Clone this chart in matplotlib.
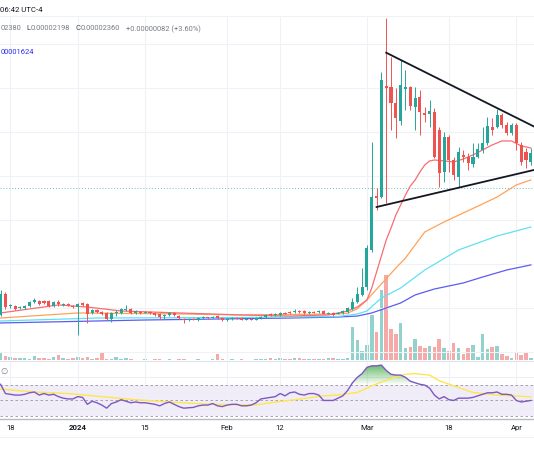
import numpy as np
import pandas as pd
import matplotlib
matplotlib.use("Agg")
import matplotlib.pyplot as plt
from matplotlib.colors import to_rgb
from matplotlib.patches import PathPatch
from matplotlib.path import Path

plt.rcParams['font.family'] = ['Roboto', 'DejaVu Sans']

# daily candles from 16 Dec 2023, prices in units of 1e-8
start = pd.Timestamp('2023-12-16')
opens = [1234, 1425, 1315, 1315, 1297, 1297, 1315, 1352, 1361, 1361, 1361, 1315, 1352, 1325, 1334, 1315,
         1306, 1343, 1334, 1252, 1279, 1261, 1252, 1197, 1252, 1252, 1279, 1288, 1252, 1261, 1252, 1261,
         1252, 1243, 1224, 1234, 1252, 1224, 1197, 1188, 1197, 1188, 1206, 1210, 1210, 1224, 1206, 1188,
         1197, 1206, 1206, 1192, 1197, 1192, 1206, 1215, 1243, 1234, 1234, 1252, 1261, 1261, 1270, 1270,
         1252, 1261, 1261, 1270, 1243, 1252, 1243, 1252, 1261, 1288, 1352, 1416, 1488, 1825, 2316, 2307,
         3317, 3308, 3163, 2999, 3290, 3308, 3126, 3217, 3072, 3063, 3081, 2917, 2535, 2853, 2644, 2489,
         2690, 2671, 2608, 2671, 2735, 2799, 2944, 2944, 3054, 2963, 2890, 2963, 2781, 2717, 2626]
highs = [1461, 1443, 1334, 1325, 1315, 1325, 1361, 1388, 1370, 1370, 1370, 1361, 1370, 1343, 1343, 1325,
         1343, 1352, 1343, 1288, 1288, 1270, 1261, 1261, 1279, 1297, 1325, 1297, 1279, 1270, 1270, 1270,
         1261, 1252, 1243, 1261, 1261, 1234, 1206, 1206, 1206, 1215, 1220, 1218, 1225, 1234, 1212, 1205,
         1212, 1212, 1212, 1203, 1203, 1212, 1222, 1240, 1250, 1252, 1261, 1258, 1266, 1288, 1276, 1276,
         1268, 1266, 1278, 1276, 1258, 1258, 1260, 1279, 1306, 1388, 1488, 1661, 1871, 2808, 2389, 3445,
         3936, 3581, 3299, 3554, 3463, 3317, 3308, 3281, 3126, 3190, 3117, 2944, 2899, 2872, 2671, 2762,
         2735, 2708, 2799, 2799, 2944, 3036, 3026, 3108, 3072, 2990, 2981, 2981, 2808, 2753, 2753]
lows = [1224, 1288, 1297, 1279, 1288, 1288, 1306, 1343, 1325, 1334, 1306, 1306, 1315, 1315, 1315, 1297,
        1052, 1315, 1161, 1243, 1252, 1234, 1188, 1170, 1224, 1243, 1270, 1243, 1243, 1243, 1252, 1243,
        1224, 1197, 1197, 1224, 1224, 1197, 1161, 1179, 1185, 1179, 1200, 1198, 1205, 1200, 1180, 1183,
        1192, 1195, 1188, 1188, 1186, 1188, 1200, 1210, 1228, 1228, 1228, 1238, 1245, 1256, 1255, 1246,
        1247, 1250, 1256, 1238, 1238, 1228, 1238, 1246, 1256, 1279, 1343, 1407, 1461, 1807, 2189, 2298,
        2253, 2917, 2844, 2963, 3099, 3099, 2917, 2872, 2990, 2944, 2662, 2398, 2444, 2535, 2462, 2398,
        2626, 2553, 2580, 2662, 2708, 2781, 2872, 2935, 2935, 2872, 2872, 2735, 2599, 2571, 2599]
closes = [1425, 1306, 1325, 1288, 1306, 1315, 1352, 1370, 1334, 1343, 1315, 1352, 1334, 1334, 1325, 1306,
          1334, 1325, 1243, 1279, 1261, 1243, 1197, 1252, 1261, 1288, 1288, 1252, 1270, 1252, 1261, 1252,
          1234, 1215, 1234, 1252, 1234, 1206, 1188, 1197, 1188, 1206, 1210, 1204, 1215, 1206, 1188, 1197,
          1206, 1200, 1192, 1197, 1192, 1206, 1215, 1234, 1234, 1243, 1252, 1243, 1252, 1270, 1261, 1252,
          1261, 1256, 1270, 1243, 1252, 1234, 1252, 1270, 1297, 1352, 1425, 1488, 1843, 2307, 2298, 3372,
          3299, 3163, 3026, 3327, 3308, 3135, 3208, 3081, 3054, 3090, 2671, 2526, 2853, 2644, 2508, 2717,
          2671, 2617, 2671, 2744, 2799, 2954, 2917, 3054, 2963, 2890, 2963, 2799, 2626, 2644, 2708]
volume = [7.8, 3.7, 2.7, 1.7, 1.7, 1.7, 1.4, 3.7, 2.0, 2.4, 1.4, 3.4, 4.8, 1.7, 0.7, 1.7,
          2.7, 1.7, 2.7, 1.0, 1.7, 6.8, 0.7, 1.4, 2.7, 1.4, 2.4, 0.7, 0.5, 0.5, 0.6, 0.5,
          0.6, 0.7, 0.5, 0.6, 0.5, 0.6, 0.7, 0.5, 0.5, 0.6, 0.5, 0.5, 1.0, 6.1, 0.6, 0.5,
          0.6, 0.5, 0.7, 0.5, 0.5, 0.6, 0.7, 0.7, 1.7, 0.7, 1.7, 0.7, 1.4, 2.0, 1.7, 0.7,
          0.7, 0.7, 0.7, 1.0, 1.7, 1.7, 0.7, 0.7, 1.7, 33.3, 19.7, 9.5, 14.6, 44.6, 28.2, 70.0,
          85.0, 31.0, 26.5, 36.7, 12.2, 12.9, 20.7, 13.9, 11.9, 13.9, 12.9, 20.7, 11.9, 8.8, 17.3, 11.9,
          6.5, 12.2, 14.6, 2.7, 26.2, 11.2, 12.9, 13.9, 6.5, 4.4, 2.0, 7.5, 5.4, 7.8, 2.0]
rsi = [71, 59, 58, 57, 57, 58, 60, 61, 57, 59, 57, 58, 55, 53, 52, 52,
       55, 54, 45, 49, 47, 44, 40, 46, 48, 51, 49, 47, 48, 47, 47, 46,
       45, 43, 46, 48, 45, 42, 40, 40.5, 41, 43, 44, 44, 46, 43, 42, 44,
       45, 45, 43, 43, 44, 47, 52, 53, 54, 55, 59, 56, 60, 61, 58, 57,
       59, 59, 57, 50, 50, 50, 53, 56, 63, 73, 80, 85, 93, 95, 95, 96,
       89, 84, 83, 83, 80, 75, 73, 71, 70, 66, 57, 52, 55, 51, 50, 53,
       53, 53, 54, 56, 58, 60, 60, 61, 58, 58, 57, 50, 48, 49, 50]
rsi_ma_day = [0, 7, 14, 21, 28, 35, 42, 49, 53, 56, 63, 67, 70, 74, 77, 81, 84, 86, 89, 91, 94, 98, 103, 110]
rsi_ma = [64.8, 61, 59, 55, 51, 48, 45.5, 44.3, 44.3, 47, 52.6, 56, 57, 60.4, 69, 78.7, 84, 84.8, 83, 75.7,
          69, 60.4, 57, 54.8]

# moving averages on the price pane (day index, value)
ma_red_day = [0, 12, 18, 25, 37, 50, 60, 68, 70, 72, 74, 76, 77, 78, 79, 80, 81, 82, 83, 84, 85, 86, 87, 88,
              89, 90, 92, 94, 96, 98, 100, 102, 104, 106, 108, 110]
ma_red = [1252, 1325, 1306, 1270, 1252, 1234, 1224, 1234, 1252, 1270, 1306, 1370, 1479, 1625, 1770, 1916,
          2025, 2144, 2235, 2326, 2407, 2462, 2535, 2599, 2635, 2644, 2635, 2626, 2653, 2690, 2735, 2781,
          2817, 2817, 2772, 2753]
ma_orange_day = [0, 16, 37, 50, 70, 72, 74, 76, 79, 82, 84, 88, 92, 96, 100, 103, 107, 110]
ma_orange = [1206, 1252, 1243, 1234, 1243, 1250, 1290, 1370, 1516, 1661, 1752, 1989, 2080, 2162, 2244,
             2307, 2417, 2462]
ma_cyan_day = [0, 20, 50, 70, 74, 76, 79, 83, 88, 95, 103, 110]
ma_cyan = [1179, 1206, 1211, 1220, 1243, 1270, 1388, 1479, 1643, 1825, 1952, 2034]
ma_blue_day = [0, 30, 60, 70, 74, 77, 80, 83, 86, 90, 96, 100, 105, 110]
ma_blue = [1161, 1188, 1206, 1215, 1224, 1252, 1297, 1343, 1416, 1470, 1525, 1579, 1643, 1689]

# drawn triangle
upper_line_dates = ['2024-03-05', '2024-04-06']
upper_line_price = [3620, 2919]
lower_line_dates = ['2024-03-03', '2024-04-06']
lower_line_price = [2216, 2567]
last_price = 2389

tick_dates = ['2023-12-18', '2024-01-01', '2024-01-15', '2024-02-01', '2024-02-12', '2024-03-01',
              '2024-03-18', '2024-04-01']
tick_labels = ['18', '2024', '15', 'Feb', '12', 'Mar', '18', 'Apr']


def day_of(d):
    return (pd.Timestamp(d) - start).days


W, H = 534, 462
fig = plt.figure(figsize=(W / 100, H / 100), dpi=100)
fig.patch.set_facecolor('white')


def rect(x0, y0, x1, y1):
    return [x0 / W, 1 - y1 / H, (x1 - x0) / W, (y1 - y0) / H]


days = np.arange(len(closes))
o = np.array(opens)
c = np.array(closes)
up = c >= o
col = np.where(up, '#26a69a', '#ef5350')
vcol = np.where(up, '#93d2cc', '#f7a9a7')
xlim = (-0.124, 110.66)
ticks = [day_of(d) for d in tick_dates]

# volume pane (underneath)
ax_vol = fig.add_axes(rect(0, 16, W, 360))
ax_vol.bar(days, volume, width=0.74, color=vcol, zorder=1)
ax_vol.set_ylim(0, 344)
ax_vol.set_xlim(*xlim)
ax_vol.axis('off')

# price pane
ax = fig.add_axes(rect(0, 16, W, 360))
ax.patch.set_visible(False)
for p in range(900, 3800, 400):
    ax.axhline(p, color='#eef1f6', lw=0.8, zorder=0)
for t in ticks:
    ax.axvline(t, color='#eef1f6', lw=0.8, zorder=0)
ax.axhline(last_price, color='#26a69a', lw=0.7, ls=(0, (1, 2)), alpha=0.7, zorder=1)

ax.plot(ma_blue_day, ma_blue, color='#5b5cf2', lw=0.9, zorder=2)
ax.plot(ma_cyan_day, ma_cyan, color='#5fe1f2', lw=0.9, zorder=2)
ax.plot(ma_orange_day, ma_orange, color='#ffa257', lw=0.9, zorder=2)
ax.plot(ma_red_day, ma_red, color='#f66d74', lw=0.9, zorder=2)

ax.vlines(days, lows, highs, colors=col, lw=0.7, zorder=3)
body = np.maximum(np.abs(c - o), 7)
ax.bar(days, body, bottom=np.minimum(o, c), width=0.64, color=col, zorder=4)

ax.plot([day_of(d) for d in upper_line_dates], upper_line_price, color='#131722', lw=1.3, zorder=5)
ax.plot([day_of(d) for d in lower_line_dates], lower_line_price, color='#131722', lw=1.3, zorder=5)
ax.set_xlim(*xlim)
ax.set_ylim(824, 3954)
ax.axis('off')

# RSI pane
ax_rsi = fig.add_axes(rect(0, 361, W, 418))
ax_rsi.axhspan(30, 70, color='#7e57c2', alpha=0.1, lw=0, zorder=0)
for g in [40, 60, 80]:
    ax_rsi.axhline(g, color='#eceef3', lw=0.7, zorder=0.5)
for t in ticks:
    ax_rsi.axvline(t, color='#eef1f6', lw=0.8, zorder=0.5)
for g in [70, 50, 30]:
    ax_rsi.axhline(g, color='#9598a1', lw=0.6, ls=(0, (3, 3)), zorder=1)

r = np.array(rsi, dtype=float)
fb = ax_rsi.fill_between(days, 70, r, where=r > 70, interpolate=True, color='none', lw=0)
clip = Path.make_compound_path(*fb.get_paths())
grad = np.zeros((120, 1, 4))
grad[..., :3] = to_rgb('#4caf50')
grad[:, 0, 3] = np.linspace(1, 0, 120)
im = ax_rsi.imshow(grad, extent=[days[0], days[-1], 70, 100], aspect='auto', origin='upper', zorder=2)
cp = PathPatch(clip, facecolor='none', edgecolor='none', transform=ax_rsi.transData)
ax_rsi.add_patch(cp)
im.set_clip_path(cp)

ax_rsi.plot(rsi_ma_day, rsi_ma, color='#fde74c', lw=1.0, zorder=3)
ax_rsi.plot(days, r, color='#7e57c2', lw=1.0, zorder=4)
ax_rsi.set_xlim(*xlim)
ax_rsi.set_ylim(27.2, 101.3)
ax_rsi.axis('off')

# pane borders
def hline(y, color, lw=0.8):
    fig.add_artist(plt.Line2D([0, 1], [1 - y / H, 1 - y / H], color=color, lw=lw))

hline(16, '#eef1f6')
hline(360.5, '#e0e3eb')
hline(419, '#b8bbc4', 1.0)
hline(437, '#eef1f6')

# header texts (left part of the legend is cut off in the screenshot)
fig.text(0.5 / W, 1 - 9.5 / H, '06:42 UTC-4', color='#131722', fontsize=5.6, va='center', ha='left')
fig.text(0.5 / W, 1 - 29 / H, '02380', color='#787b86', fontsize=5.4, va='center', ha='left')
fig.text(26 / W, 1 - 29 / H, 'L', color='#3a3d47', fontsize=5.4, va='center', ha='left')
fig.text(30.5 / W, 1 - 29 / H, '0.00002198', color='#787b86', fontsize=5.4, va='center', ha='left')
fig.text(76 / W, 1 - 29 / H, 'C', color='#3a3d47', fontsize=5.4, va='center', ha='left')
fig.text(81 / W, 1 - 29 / H, '0.00002360', color='#787b86', fontsize=5.4, va='center', ha='left')
fig.text(126 / W, 1 - 29 / H, '+0.00000082 (+3.60%)', color='#787b86', fontsize=5.4, va='center', ha='left')
fig.text(0.5 / W, 1 - 52 / H, '00001624', color='#2b2bf5', fontsize=5.4, va='center', ha='left')
fig.text(0.5 / W, 1 - 371 / H, '\u2205', color='#787b86', fontsize=6, va='center', ha='left',
         family='DejaVu Sans')

# time axis labels
for t, lab in zip(ticks, tick_labels):
    xf = ax.transData.transform((t, 0))[0] / fig.dpi / fig.get_figwidth()
    fig.text(xf, 1 - 428 / H, lab, color='#131722', fontsize=5.6, va='center', ha='center',
             fontweight='bold' if lab == '2024' else 'normal')

fig.savefig('out.png', dpi=100, facecolor='white')
